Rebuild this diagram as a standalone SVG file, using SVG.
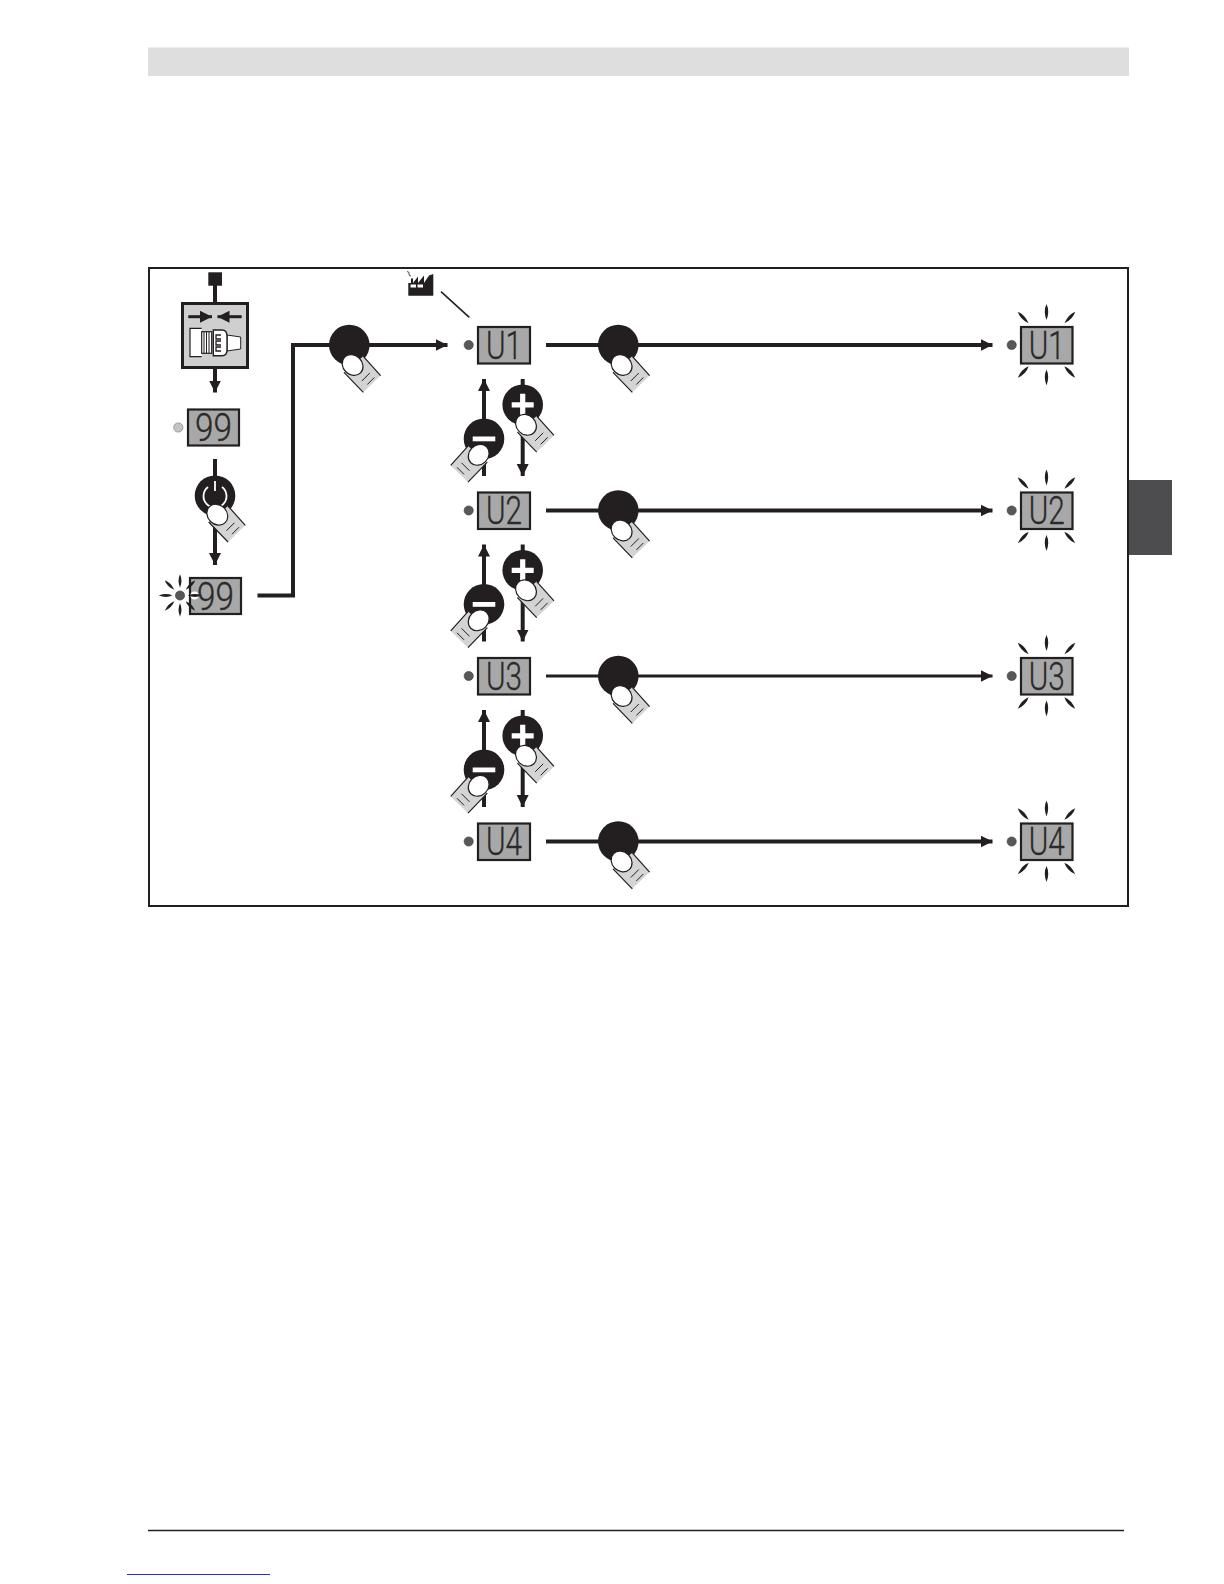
<svg xmlns="http://www.w3.org/2000/svg" width="1224" height="1584" viewBox="0 0 1224 1584">
<style>
.ln{fill:none;stroke:#231f20;stroke-width:4}
.ln2{fill:none;stroke:#231f20;stroke-width:3}
.disp{fill:#a8a8a8;stroke:#231f20;stroke-width:2.2}
.dt{font-family:"Roboto","Liberation Sans",sans-serif;font-weight:300;font-size:38px;fill:#2a2a2a;stroke:#2a2a2a;stroke-width:.35;text-anchor:middle}
.led{fill:#58585a;stroke:#3a3a3a;stroke-width:.6}
.btn{fill:#231f20}
.sym{fill:#fff}
</style>
<defs>
<marker id="ah" markerUnits="userSpaceOnUse" markerWidth="13" markerHeight="13" refX="12" refY="6.500" orient="auto"><path d="M0,0.500L12,6.500L0,12.500Z" fill="#231f20"/></marker>
<path id="ray" d="M0,-8Q3.400,-1 0,8Q-3.400,-1 0,-8Z" fill="#231f20"/>
<g id="hand">
<path d="M14,11.300L31.300,30.600L14,47.300L-5.300,27.300Z" fill="#d4d4d4"/>
<path d="M14,11.300L31.300,30.600M14,47.300L-5.300,27.300" fill="none" stroke="#231f20" stroke-width="1.200"/>
<path d="M12.500,36L20.500,28M18,39.500L25,32.500" fill="none" stroke="#231f20" stroke-width="1"/>
<ellipse cx="3.300" cy="20" rx="11.200" ry="9.600" transform="rotate(45 3.300 20)" fill="#fff" stroke="#231f20" stroke-width="1.200"/>
</g>
<g id="press"><circle r="20.300" class="btn"/><use href="#hand"/></g>
<g id="rays">
<use href="#ray" x="0" y="-33"/><use href="#ray" x="0" y="32.500"/>
<use href="#ray" transform="translate(-23.300,-27.500) rotate(-43)"/><use href="#ray" transform="translate(23.300,-27.500) rotate(43)"/>
<use href="#ray" transform="translate(-23.300,27) rotate(43)"/><use href="#ray" transform="translate(23.300,27) rotate(-43)"/>
</g>
<g id="updown">
<circle cx="522.700" cy="404.800" r="20.300" class="btn"/>
<path d="M511.700,402.200h8.400v-8.400h5.200v8.400h8.400v5.200h-8.400v8.400h-5.200v-8.400h-8.400Z" class="sym"/>
<use href="#hand" transform="translate(522.700,404.800)"/>
<circle cx="484" cy="438.800" r="20.300" class="btn"/>
<rect x="472.700" y="436.500" width="22.600" height="4.800" class="sym"/>
<use href="#hand" transform="translate(482,434.800) scale(-1,1)"/>
</g>
</defs>
<rect width="1224" height="1584" fill="#fff"/>
<rect id="header" x="148" y="47.500" width="981" height="28.500" fill="#dedede"/>
<rect id="tab" x="1128" y="480" width="44" height="75" fill="#4d4d4f"/>
<rect id="frame" x="149" y="268" width="979" height="638" fill="none" stroke="#231f20" stroke-width="2"/>
<path id="footline" d="M148,1530.500H1124" fill="none" stroke="#231f20" stroke-width="1.600"/>
<path id="link" d="M127,1574.500H270" fill="none" stroke="#2a35b5" stroke-width="1"/>

<g id="connectors">
<path class="ln" d="M215,285V303"/>
<path class="ln" d="M215,368V392.500" marker-end="url(#ah)"/>
<path class="ln" d="M215,459V565" marker-end="url(#ah)"/>
<path class="ln" d="M257.500,595.500H293V345H447.500" marker-end="url(#ah)"/>
<path class="ln" d="M546,345H992.500" marker-end="url(#ah)"/>
<path class="ln" d="M546,510.500H992.500" marker-end="url(#ah)"/>
<path class="ln2" d="M546,676H992.500" marker-end="url(#ah)"/>
<path class="ln" d="M546,841.500H992.500" marker-end="url(#ah)"/>
<path class="ln" d="M484,476V379" marker-end="url(#ah)"/>
<path class="ln" d="M522.700,379V476" marker-end="url(#ah)"/>
<path class="ln" d="M484,641.500V544.500" marker-end="url(#ah)"/>
<path class="ln" d="M522.700,544.500V641.500" marker-end="url(#ah)"/>
<path class="ln" d="M484,807V710" marker-end="url(#ah)"/>
<path class="ln" d="M522.700,710V807" marker-end="url(#ah)"/>
<path d="M441,291.700L469.300,317.300" fill="none" stroke="#231f20" stroke-width="1.600"/>
</g>

<g id="node-start"><rect x="208.300" y="272.300" width="13.700" height="13.400" fill="#231f20"/></g>

<g id="node-connector">
<rect x="182.500" y="303.500" width="65" height="64" fill="#cfcfcf" stroke="#231f20" stroke-width="3"/>
<path d="M188.300,316.700H212" class="ln2" marker-end="url(#ah)"/>
<path d="M241.700,316.700H217.500" class="ln2" marker-end="url(#ah)"/>
<path d="M201.700,328.300H190V356.700H201.700" fill="#fff" stroke="#231f20" stroke-width="1.200"/>
<rect x="201.700" y="331.700" width="10" height="21.600" fill="#fff" stroke="#231f20" stroke-width="1.200"/>
<path d="M204,332V353M206.500,332V353M209,332V353" stroke="#231f20" stroke-width="1" fill="none"/>
<path d="M227,335L240.700,337V349L227,351Z" fill="#fff" stroke="#231f20" stroke-width="1"/>
<path d="M213.300,330H222Q227,330 227,336V350Q227,355.700 222,355.700H213.300Z" fill="#fff" stroke="#231f20" stroke-width="1.400"/>
<path d="M221,335H216V339H221M221,341H216V345H221M221,347H216V351H221" stroke="#231f20" stroke-width="1.300" fill="none"/>
</g>

<g id="node-99a">
<circle cx="178.300" cy="427.500" r="4.600" fill="#c4c4c4" stroke="#8a8a8a" stroke-width=".8"/>
<rect x="188" y="409.500" width="51" height="36" class="disp"/>
<text x="213.500" y="441" class="dt" textLength="37" lengthAdjust="spacingAndGlyphs">99</text>
</g>

<g id="node-power">
<circle cx="215" cy="495.700" r="20.300" class="btn"/>
<path d="M208,487A11.500,11.500 0 1 0 222,487" fill="none" stroke="#fff" stroke-width="1.800"/>
<path d="M215,481V491" fill="none" stroke="#fff" stroke-width="1.800"/>
<use href="#hand" transform="translate(214,494.700)"/>
</g>

<g id="node-99b">
<rect x="190" y="578" width="51" height="36" class="disp"/>
<text x="215.500" y="609.500" class="dt" textLength="37" lengthAdjust="spacingAndGlyphs">99</text>
<circle cx="180" cy="595.500" r="4.600" class="led"/>
<g transform="translate(180,595.500)">
<use href="#ray" transform="translate(0,-14.500) scale(.85)"/><use href="#ray" transform="translate(0,14.500) scale(.85)"/>
<use href="#ray" transform="translate(-14.500,0) rotate(90) scale(.85)"/>
<circle cx="14.500" r="4" fill="#fff"/><use href="#ray" transform="translate(14.500,0) rotate(90) scale(.85)"/>
<use href="#ray" transform="translate(-10.500,-10.500) rotate(-45) scale(.85)"/><use href="#ray" transform="translate(10.500,-10.500) rotate(45) scale(.85)"/>
<use href="#ray" transform="translate(-10.500,10.500) rotate(45) scale(.85)"/><use href="#ray" transform="translate(10.500,10.500) rotate(-45) scale(.85)"/>
</g>
</g>

<g id="node-enter"><use href="#press" transform="translate(349.300,345)"/></g>

<g id="node-factory">
<path d="M408.300,295.700V283H411V278.500H413V283L418,276.500V283L424,275.500V283L429,275.500L433.300,274V295.700Z" fill="#231f20"/>
<rect x="410.500" y="284.500" width="5.500" height="3" fill="#fff"/><rect x="417.500" y="284.500" width="5.500" height="3" fill="#fff"/>
<path d="M407,271.500Q410,272 409,274Q408.500,276 411,276" fill="none" stroke="#231f20" stroke-width=".8"/>
</g>

<g id="node-u1"><circle cx="468.700" cy="345" r="4.600" class="led"/><rect x="478" y="327" width="52" height="36.500" class="disp"/><text x="504" y="358.500" class="dt" textLength="36" lengthAdjust="spacingAndGlyphs">U1</text></g>
<g id="node-u2"><circle cx="468.700" cy="510.500" r="4.600" class="led"/><rect x="478" y="492.500" width="52" height="36.500" class="disp"/><text x="504" y="524" class="dt" textLength="36" lengthAdjust="spacingAndGlyphs">U2</text></g>
<g id="node-u3"><circle cx="468.700" cy="676" r="4.600" class="led"/><rect x="478" y="658" width="52" height="36.500" class="disp"/><text x="504" y="689.500" class="dt" textLength="36" lengthAdjust="spacingAndGlyphs">U3</text></g>
<g id="node-u4"><circle cx="468.700" cy="841.500" r="4.600" class="led"/><rect x="478" y="823.500" width="52" height="36.500" class="disp"/><text x="504" y="855" class="dt" textLength="36" lengthAdjust="spacingAndGlyphs">U4</text></g>

<g id="node-step12"><use href="#updown"/></g>
<g id="node-step23"><use href="#updown" transform="translate(0,165.500)"/></g>
<g id="node-step34"><use href="#updown" transform="translate(0,331)"/></g>

<g id="node-ok1"><use href="#press" transform="translate(618.300,345)"/></g>
<g id="node-ok2"><use href="#press" transform="translate(618.300,510.500)"/></g>
<g id="node-ok3"><use href="#press" transform="translate(618.300,676)"/></g>
<g id="node-ok4"><use href="#press" transform="translate(618.300,841.500)"/></g>

<g id="node-r1"><circle cx="1011.700" cy="345" r="4.600" class="led"/><rect x="1021" y="327" width="51.500" height="36.500" class="disp"/><text x="1046.700" y="358.500" class="dt" textLength="36" lengthAdjust="spacingAndGlyphs">U1</text><use href="#rays" transform="translate(1046.500,345)"/></g>
<g id="node-r2"><circle cx="1011.700" cy="510.500" r="4.600" class="led"/><rect x="1021" y="492.500" width="51.500" height="36.500" class="disp"/><text x="1046.700" y="524" class="dt" textLength="36" lengthAdjust="spacingAndGlyphs">U2</text><use href="#rays" transform="translate(1046.500,510.500)"/></g>
<g id="node-r3"><circle cx="1011.700" cy="676" r="4.600" class="led"/><rect x="1021" y="658" width="51.500" height="36.500" class="disp"/><text x="1046.700" y="689.500" class="dt" textLength="36" lengthAdjust="spacingAndGlyphs">U3</text><use href="#rays" transform="translate(1046.500,676)"/></g>
<g id="node-r4"><circle cx="1011.700" cy="841.500" r="4.600" class="led"/><rect x="1021" y="823.500" width="51.500" height="36.500" class="disp"/><text x="1046.700" y="855" class="dt" textLength="36" lengthAdjust="spacingAndGlyphs">U4</text><use href="#rays" transform="translate(1046.500,841.500)"/></g>
</svg>
